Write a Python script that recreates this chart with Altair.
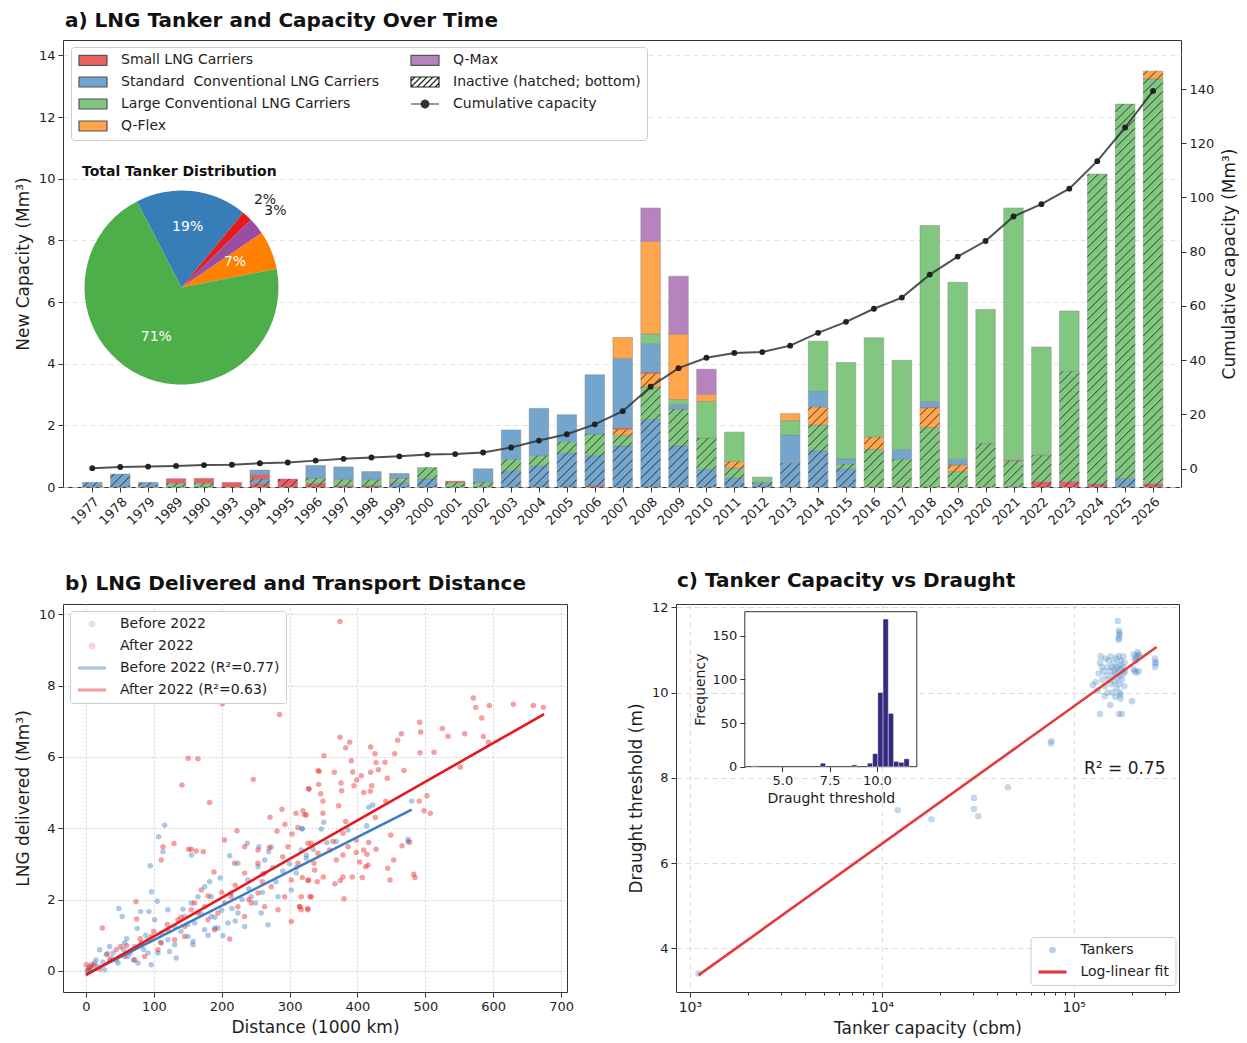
import math
import altair as alt
import pandas as pd

FONT = "DejaVu Sans"
TXT = "#1e1e1e"

# ------------------------------------------------------------------ panel a data
years = [1977, 1978, 1979, 1989, 1990, 1993] + list(range(1994, 2027))

cat_keys = ["small", "standard", "large", "qflex", "qmax"]
cat_labels = ["Small LNG Carriers", "Standard\u00a0 Conventional LNG Carriers",
              "Large Conventional LNG Carriers", "Q-Flex", "Q-Max"]

# inactive (hatched, bottom of each bar), Mm3 per year
small_inactive = {1994: 0.12, 1995: 0.26, 1996: 0.12, 1997: 0.05, 1998: 0.05, 2006: 0.05,
                  2022: 0.17, 2023: 0.17, 2024: 0.10, 2026: 0.10}
standard_inactive = {1977: 0.15, 1978: 0.42, 1979: 0.15, 1994: 0.14, 1999: 0.15, 2000: 0.26,
                     2003: 0.53, 2004: 0.69, 2005: 1.11, 2006: 0.98, 2007: 1.33, 2008: 2.19,
                     2009: 1.33, 2010: 0.57, 2011: 0.29, 2012: 0.15, 2013: 0.77, 2014: 1.18,
                     2015: 0.60, 2025: 0.28}
large_inactive = {1989: 0.13, 1990: 0.13, 1996: 0.17, 1997: 0.19, 1998: 0.19, 1999: 0.14,
                  2000: 0.37, 2001: 0.15, 2002: 0.15, 2003: 0.37, 2004: 0.33, 2005: 0.36,
                  2006: 0.69, 2007: 0.35, 2008: 1.06, 2009: 1.20, 2010: 1.02, 2011: 0.32,
                  2014: 0.83, 2015: 0.15, 2016: 1.22, 2017: 0.90, 2018: 1.93, 2019: 0.50,
                  2020: 1.41, 2021: 0.85, 2022: 0.86, 2023: 3.58, 2024: 10.05, 2025: 12.14,
                  2026: 13.14}
qflex_inactive = {2007: 0.19, 2008: 0.43, 2011: 0.22, 2014: 0.59, 2016: 0.40, 2018: 0.64,
                  2019: 0.21, 2026: 0.25}
qmax_inactive = {}

# active (solid)
small_active = {1989: 0.14, 1990: 0.15, 1993: 0.15, 1994: 0.15, 2001: 0.04, 2007: 0.06,
                2008: 0.05, 2018: 0.03, 2019: 0.02, 2021: 0.03}
standard_active = {1994: 0.14, 1996: 0.41, 1997: 0.41, 1998: 0.26, 1999: 0.15, 2002: 0.44,
                   2003: 0.95, 2004: 1.53, 2005: 0.87, 2006: 1.92, 2007: 2.24, 2008: 0.92,
                   2009: 0.15, 2013: 0.92, 2014: 0.51, 2015: 0.16, 2017: 0.32, 2018: 0.18,
                   2019: 0.17}
large_active = {2008: 0.32, 2009: 0.16, 2010: 1.19, 2011: 0.95, 2012: 0.17, 2013: 0.46,
                2014: 1.62, 2015: 3.13, 2016: 3.22, 2017: 2.89, 2018: 5.70, 2019: 5.74,
                2020: 4.35, 2021: 8.17, 2022: 3.51, 2023: 1.96}
qflex_active = {2007: 0.68, 2008: 3.00, 2009: 2.12, 2010: 0.23, 2013: 0.23}
qmax_active = {2008: 1.08, 2009: 1.88, 2010: 0.81}

inactive = dict(small=small_inactive, standard=standard_inactive, large=large_inactive,
                qflex=qflex_inactive, qmax=qmax_inactive)
active = dict(small=small_active, standard=standard_active, large=large_active,
              qflex=qflex_active, qmax=qmax_active)

# pie: total tanker distribution (share, %)
pie_keys = ["standard", "small", "qmax", "qflex", "large"]
pie_share = [18.6, 1.7, 2.8, 6.4, 70.5]
pie_in_labels = ["19%", "", "", "7%", "71%"]
pie_out_labels = ["", "2%", "3%", "", ""]

# ------------------------------------------------------------------ panel b data
before_pts = [
    (115.9, 4.08), (107.1, 3.76), (318.8, 3.99), (479.9, 4.76), (422.5, 4.65), (416.6, 4.59),
    (413.6, 4.07), (350.3, 4.17), (346.8, 3.98), (318.3, 3.98), (474.5, 3.69), (386, 3.95),
    (113.5, 3.34), (94.8, 2.95), (96.8, 2.22), (105.1, 1.95), (48.6, 1.75), (53.5, 1.52),
    (80.5, 1.66), (92.8, 1.66), (101.2, 1.43), (75.6, 1.19), (20.2, 0.59), (34.9, 0.68),
    (17.7, 0.12), (27.6, 0.03), (5.4, 0.03), (12.8, 0.22), (47.2, 0.22), (61.9, 0.40),
    (76.6, 0.22), (96.2, 0.17), (91.4, 0.50), (106.1, 0.50), (123.3, 0.54), (133.1, 0.36),
    (130.7, 0.73), (150.3, 0.96), (157.7, 0.73), (120.8, 1.71), (142.9, 1.73), (160.2, 1.34),
    (174.9, 1.15), (184.6, 1.52), (201.9, 0.98), (182.3, 2.50), (197.9, 2.60), (211.8, 3.23),
    (224, 3.02), (237.7, 3.58), (254.9, 3.48), (269.2, 3.34), (273.1, 3.47), (253.5, 2.92),
    (263.3, 3.11), (238.7, 2.55), (243.6, 2.08), (214.1, 2.18), (224, 1.62), (209.3, 1.34),
    (233.8, 1.24), (258.4, 1.62), (268.2, 1.29), (283, 2.08), (302.6, 2.27), (309.9, 2.74),
    (324.7, 3.16), (317.3, 3.39), (155.2, 1.90), (165, 2.08), (184.6, 2.08), (174.9, 2.36),
    (145.4, 1.52), (130.7, 1.24), (111, 1.06), (91.4, 0.87), (71.8, 0.68), (57, 0.78),
    (37.3, 0.36), (120.8, 0.87), (194.5, 1.20), (157.7, 0.82), (474.5, 3.61), (368.9, 3.63),
    (324.7, 3.25), (155.5, 3.25), (2, 0.0), (8, 0.1), (15, 0.3), (25, 0.25), (30, 0.45),
    (40, 0.5), (45, 0.3), (55, 0.6), (60, 0.9), (65, 0.5), (70, 0.3), (85, 0.6), (88, 1.0),
    (110, 0.8), (140, 1.1), (150, 1.3), (170, 1.6), (190, 1.5), (200, 1.7), (220, 1.4),
    (230, 2.0), (250, 1.9), (260, 2.2), (280, 2.5), (290, 2.8), (300, 3.0), (310, 2.9),
    (335, 3.4), (355, 3.6), (260, 2.7), (275, 2.9), (190, 1.2), (180, 1.0), (215, 1.75),
    (240, 2.3),
]
after_pts = [
    (200.9, 7.49), (285.4, 7.19), (150.8, 5.96), (165, 5.95), (246.6, 5.37), (141.5, 5.21),
    (182.2, 4.72), (288.8, 4.53), (271.1, 4.31), (309.5, 4.42), (319.8, 4.49), (324.7, 4.37),
    (328.1, 5.11), (293.2, 4.11), (222.5, 3.93), (281.5, 3.92), (303.6, 3.84), (312.4, 4.02),
    (204.3, 3.67), (341.9, 5.61), (374.3, 9.80), (570.8, 7.65), (574.2, 7.39), (594.4, 7.44),
    (629.7, 7.48), (659.2, 7.44), (673.9, 7.39), (583.1, 7.09), (585.5, 6.57), (592.9, 6.41),
    (558, 6.65), (533.5, 6.58), (525.1, 6.80), (551.6, 5.72), (491.7, 6.97), (493.2, 6.70),
    (492.2, 6.12), (512.8, 6.13), (464.7, 6.65), (459.3, 6.47), (454.9, 6.09), (440.6, 5.85),
    (419.5, 6.28), (425.9, 6.09), (427.4, 5.84), (430.8, 5.64), (419.5, 5.57), (444, 5.40),
    (468.6, 5.62), (421, 5.19), (419, 5.04), (409.2, 5.00), (405.7, 5.47), (398.9, 5.35),
    (394.9, 5.19), (374.3, 6.55), (388.6, 6.41), (382.7, 6.26), (391, 5.89), (393, 5.58),
    (375.8, 5.27), (376.8, 5.05), (365.9, 5.57), (350.7, 6.03), (343.8, 5.60), (342.9, 5.23),
    (345.9, 4.97), (349.2, 4.76), (328.6, 5.10), (372.4, 4.63), (349.2, 4.42), (382.7, 4.19),
    (426.3, 4.30), (441.6, 4.76), (491.2, 4.76), (502.5, 4.91), (498.1, 4.49), (507.4, 4.42),
    (449, 3.81), (322.2, 4.38), (113.5, 3.48), (129.7, 3.57), (151.3, 3.41), (155.2, 3.41),
    (162.5, 3.36), (172.9, 3.34), (111, 3.11), (188.6, 2.77), (73.7, 1.94), (74.7, 1.45),
    (24.1, 1.20), (51.1, 0.68), (31.4, 0.48), (0.5, 0.17), (7.9, 0.17), (3, 0.03), (57, 0.40),
    (81.5, 0.78), (96.2, 0.96), (111, 0.78), (120.8, 1.15), (135.6, 1.43), (145.4, 1.24),
    (165, 1.62), (174.9, 1.80), (179.8, 1.43), (189.6, 1.15), (211.8, 0.89), (194.5, 1.62),
    (204.4, 1.90), (214.1, 2.08), (224, 1.80), (233.8, 1.52), (243.6, 1.90), (253.5, 2.18),
    (263.3, 1.80), (273.1, 2.36), (283, 1.71), (292.8, 2.08), (302.6, 2.55), (315, 1.80),
    (327.1, 1.71), (332, 2.08), (302.6, 1.38), (297.7, 3.48), (312.4, 3.02), (327.1, 2.55),
    (337, 2.83), (253.5, 3.02), (233.8, 2.74), (219.1, 3.02), (263.3, 2.74), (169.9, 2.27),
    (155.2, 1.71), (145.4, 0.96), (130.7, 0.87), (106.1, 0.59), (86.5, 0.40), (71.8, 0.31),
    (233.8, 3.48), (253.5, 3.39), (327.1, 3.58), (465.7, 3.51), (477, 3.61), (453.4, 3.11),
    (444.6, 2.88), (448, 2.55), (482.9, 2.71), (484.8, 2.62), (416.6, 3.60), (427.4, 3.41),
    (414.1, 3.27), (409.2, 3.39), (403.3, 3.05), (415.6, 2.97), (412.2, 2.92), (398.3, 3.32),
    (407.2, 2.62), (392.4, 2.63), (378.7, 3.25), (368.9, 3.11), (378.7, 2.63), (374.8, 2.53),
    (366.9, 2.44), (380.2, 2.02), (349.7, 2.63), (340.8, 2.50), (328.1, 2.53), (318.8, 2.62),
    (330.1, 2.08), (317.3, 2.08), (326.7, 1.75), (317.3, 1.71), (314.9, 1.80), (336, 3.02),
    (359.1, 3.39), (378.7, 3.86), (398.3, 3.67), (341.9, 3.30), (332, 3.58), (364, 3.63),
    (386.1, 3.48), (5, 0.1), (12, 0.15), (20, 0.05), (35, 0.3), (45, 0.6), (60, 0.7), (80, 0.9),
    (100, 1.1), (120, 1.3), (140, 1.5), (160, 1.9), (180, 2.1), (200, 2.2), (220, 2.4),
    (240, 2.0), (260, 2.5), (270, 3.45), (290, 3.2),
]
before_fit_x = [0, 480]
before_fit_y = [-0.10, 4.52]
after_fit_x = [0, 675]
after_fit_y = [-0.12, 7.20]
b_legend_labels = ["Before 2022", "After 2022", "Before 2022 (R\u00b2=0.77)", "After 2022 (R\u00b2=0.63)"]

# ------------------------------------------------------------------ panel c data
tanker_pts = [
    (1110, 3.41), (12100, 7.24), (18150, 7.03), (30200, 7.53), (30200, 7.27), (31800, 7.10),
    (45400, 7.78), (76000, 8.81), (76500, 8.86),
    (169500, 11.68), (172000, 11.45), (172500, 11.40), (173000, 11.35), (172000, 11.28),
    (171000, 11.24),
    (125500, 10.18), (130000, 10.25), (133000, 10.05), (135000, 10.45), (137000, 10.70),
    (138000, 10.85), (140000, 10.60), (141000, 10.30), (143000, 10.50), (145000, 10.15),
    (146000, 10.80), (148000, 10.40), (150000, 10.60), (150000, 10.00), (152000, 10.75),
    (153000, 10.30), (155000, 10.50), (156000, 10.85), (157000, 10.20), (158000, 10.60),
    (160000, 10.40), (160000, 10.00), (162000, 10.70), (163000, 10.55), (164000, 10.25),
    (165000, 10.45), (166000, 10.80), (167000, 10.10), (168000, 10.60), (169000, 10.35),
    (170000, 10.50), (171000, 10.85), (172000, 10.20), (173000, 10.65), (174000, 10.00),
    (175000, 10.40), (176000, 10.75), (177000, 10.55), (178000, 10.30), (180000, 10.60),
    (181000, 10.85), (182000, 10.45), (183000, 10.15), (184000, 10.70), (185000, 10.50),
    (175000, 9.95), (165000, 9.90), (145000, 9.92),
    (205000, 10.90), (208000, 10.80), (210000, 10.75), (212000, 10.85), (215000, 10.95),
    (218000, 10.90), (220000, 10.85), (205000, 10.55), (208000, 10.50), (212000, 10.47),
    (218000, 10.50),
    (265000, 10.80), (266000, 10.72), (267000, 10.68), (265000, 10.60),
    (155000, 9.71), (201000, 9.80), (137000, 9.50), (172000, 9.50), (178000, 9.50), (175000, 9.86),
]
fit_c_x = [1110, 270000]
fit_c_y = [3.37, 11.07]
hist_lo = [3.400, 7.001, 8.663, 9.494, 9.771, 10.048, 10.325, 10.602, 10.879, 11.156, 11.433]
hist_n = [1, 4, 2, 4, 15, 85, 169, 61, 6, 5, 9]
HIST_W = 0.277
c_legend_labels = ["Tankers", "Log-linear fit"]

# ------------------------------------------------------------------ styles
SET1 = dict(small="#e41a1c", standard="#377eb8", large="#4daf4a", qflex="#ff7f00", qmax="#984ea3")
BAR = dict(small="#ec5f60", standard="#73a5cd", large="#82c780", qflex="#ffa54c", qmax="#b783bf")

A_W, A_H = 1118, 447
A_XDOM = [-1.05, 39.0]
A_YDOM = [0, 14.5]
A_Y2DOM = [-6.8, 158.1]
BW = 0.7
SX = A_W / (A_XDOM[1] - A_XDOM[0])
SY = A_H / (A_YDOM[1] - A_YDOM[0])
HS = 9.0  # hatch spacing in px


def hatch_lines(x0, x1, y0, y1):
    X0, X1, Y0, Y1 = x0 * SX, x1 * SX, y0 * SY, y1 * SY
    out = []
    kmin = math.floor((Y0 - X1) / HS)
    kmax = math.ceil((Y1 - X0) / HS)
    for k in range(kmin, kmax + 1):
        c = k * HS
        lo = max(X0, Y0 - c)
        hi = min(X1, Y1 - c)
        if hi - lo > 0.6:
            out.append(dict(hx=lo / SX, hy=(lo + c) / SY, hx2=hi / SX, hy2=(hi + c) / SY))
    return out


seg_rows, hatch_rows, tot_rows = [], [], []
for i, yr in enumerate(years):
    base = 0.0
    for status, dd in (("inactive", inactive), ("active", active)):
        for k in cat_keys:
            v = dd[k].get(yr, 0.0)
            if v > 0:
                seg_rows.append(dict(x0=i - BW / 2, x1=i + BW / 2, y0=base, y1=base + v,
                                     fill=BAR[k]))
                if status == "inactive":
                    hatch_rows.extend(hatch_lines(i - BW / 2, i + BW / 2, base, base + v))
                base += v
    tot_rows.append(dict(idx=i, total=base))

df_seg = pd.DataFrame(seg_rows)
df_hatch = pd.DataFrame(hatch_rows)
df_tot = pd.DataFrame(tot_rows)

year_expr = "[" + ",".join("'%d'" % y for y in years) + "][datum.value]"
XSCALE_A = alt.Scale(domain=A_XDOM, nice=False, zero=False)
XAXIS_A = alt.Axis(values=list(range(len(years))), labelExpr=year_expr, labelAngle=-45,
                   title=None, grid=False, labelOverlap=False, labelFontSize=13)
YSCALE_A = alt.Scale(domain=A_YDOM, nice=False, zero=False)
YAXIS_A = alt.Axis(values=list(range(0, 15, 2)), title="New Capacity (Mm\u00b3)", grid=True,
                   gridDash=[5, 4], gridColor="#dcdcdc", gridWidth=0.8)

bars = alt.Chart(df_seg).mark_rect(stroke="#8a8a8a", strokeWidth=0.5).encode(
    x=alt.X("x0:Q", scale=XSCALE_A, axis=XAXIS_A), x2="x1:Q",
    y=alt.Y("y0:Q", scale=YSCALE_A, axis=YAXIS_A), y2="y1:Q",
    fill=alt.Fill("fill:N", scale=None))
hatch = alt.Chart(df_hatch).mark_rule(color="#1a1a1a", strokeWidth=0.9, opacity=0.9).encode(
    x=alt.X("hx:Q", scale=XSCALE_A, axis=XAXIS_A), x2="hx2:Q",
    y=alt.Y("hy:Q", scale=YSCALE_A, axis=YAXIS_A), y2="hy2:Q")
bars_layer = alt.layer(bars, hatch)

cum_base = alt.Chart(df_tot).transform_window(
    cum="sum(total)", sort=[alt.SortField("idx")], frame=[None, 0]).encode(
    x=alt.X("idx:Q", scale=XSCALE_A, axis=XAXIS_A),
    y=alt.Y("cum:Q", scale=alt.Scale(domain=A_Y2DOM, nice=False, zero=False),
            axis=alt.Axis(orient="right", values=list(range(0, 141, 20)), grid=False,
                          title="Cumulative capacity (Mm\u00b3)", titleAngle=270,
                          titleBaseline="top", titlePadding=8)))
cum_line = cum_base.mark_line(color="#333333", strokeWidth=2, opacity=0.85)
cum_pts = cum_base.mark_circle(color="#222222", size=34, opacity=1)
line_layer = alt.layer(cum_line, cum_pts)

df_pie = pd.DataFrame(dict(key=pie_keys, share=pie_share, ord=list(range(5)),
                           col=[SET1[k] for k in pie_keys], lin=pie_in_labels,
                           lout=pie_out_labels))
PIE_X, PIE_Y, PIE_R = 118.5, 247.5, 97
START = math.radians(-27.4)
theta = alt.Theta("share:Q", stack=True,
                  scale=alt.Scale(range=[START, START + 2 * math.pi]))
pie = alt.Chart(df_pie).mark_arc(outerRadius=PIE_R).encode(
    theta=theta, order=alt.Order("ord:Q"), fill=alt.Fill("col:N", scale=None),
    x=alt.value(PIE_X), y=alt.value(PIE_Y))
pie_in = alt.Chart(df_pie).mark_text(radius=58, fontSize=14, color="white", dy=-3).encode(
    theta=theta, order=alt.Order("ord:Q"), text="lin:N", x=alt.value(PIE_X), y=alt.value(PIE_Y))
pie_out = alt.Chart(df_pie).mark_text(radius=107, fontSize=14, color=TXT, align="left",
                                      dy=-9).encode(
    theta=theta, order=alt.Order("ord:Q"), text="lout:N", x=alt.value(PIE_X), y=alt.value(PIE_Y))
pie_title = alt.Chart(pd.DataFrame(dict(t=["Total Tanker Distribution"]))).mark_text(
    fontSize=14, fontWeight="bold", align="left", baseline="middle", color="#111").encode(
    text="t:N", x=alt.value(19), y=alt.value(132))

RECT = "M-1,-1H4.6V1H-1Z"
HATCH = ("M-1,-1H4.6V1H-1Z M-1,1L1,-1 M0.2,1L2.2,-1 M1.4,1L3.4,-1 M2.6,1L4.6,-1 "
         "M3.8,1L4.6,0.2 M-1,-0.2L-0.2,-1")
LINEDOT = ("M-1,0H4.6 M1.8,-0.8L2.37,-0.57L2.6,0L2.37,0.57L1.8,0.8L1.23,0.57L1,0L1.23,-0.57Z")
a_leg_domain = [cat_labels[0], cat_labels[1], cat_labels[2], cat_labels[3], cat_labels[4],
                "Inactive (hatched; bottom)", "Cumulative capacity"]
a_leg_colors = [BAR["small"], BAR["standard"], BAR["large"], BAR["qflex"], BAR["qmax"], "white",
                "#333333"]
a_leg_strokes = ["#555555", "#555555", "#555555", "#555555", "#555555", "#222222", "#333333"]
a_leg_shapes = [RECT, RECT, RECT, RECT, RECT, HATCH, LINEDOT]
LEG_A = alt.Legend(title=None, orient="none", legendX=8, legendY=7, columns=2, columnPadding=28,
                   rowPadding=6, symbolSize=100, symbolStrokeWidth=1.2, symbolOpacity=1,
                   labelOffset=30, labelFontSize=14, labelColor=TXT, labelLimit=500, padding=6,
                   strokeColor="#cccccc", fillColor="white", cornerRadius=3)
leg_a = alt.Chart(pd.DataFrame(dict(lg=a_leg_domain))).transform_filter("false").mark_point(
    filled=True, opacity=1).encode(
    x=alt.value(0), y=alt.value(0),
    color=alt.Color("lg:N", scale=alt.Scale(domain=a_leg_domain, range=a_leg_colors), legend=LEG_A),
    stroke=alt.Stroke("lg:N", scale=alt.Scale(domain=a_leg_domain, range=a_leg_strokes),
                      legend=LEG_A),
    shape=alt.Shape("lg:N", scale=alt.Scale(domain=a_leg_domain, range=a_leg_shapes), legend=LEG_A))

panel_a = alt.layer(bars_layer, line_layer, pie, pie_in, pie_out, pie_title, leg_a).resolve_scale(
    y="independent").properties(
    width=A_W, height=A_H,
    title=alt.TitleParams("a) LNG Tanker and Capacity Over Time", anchor="start", frame="group",
                          fontSize=20, fontWeight="bold", offset=9, dx=2, color="#111"))

# ------------------------------------------------------------------ panel b
B_W, B_H = 504, 388
df_b = pd.DataFrame(
    [dict(d=x, v=y, c="#3a7dc0") for x, y in before_pts] +
    [dict(d=x, v=y, c="#e41a1c") for x, y in after_pts])
XSCALE_B = alt.Scale(domain=[-33.75, 708.75], nice=False, zero=False)
YSCALE_B = alt.Scale(domain=[-0.595, 10.29], nice=False, zero=False)
XAXIS_B = alt.Axis(values=list(range(0, 701, 100)), title="Distance (1000 km)", grid=True,
                   gridDash=[2, 2], gridColor="#c9c9c9", gridWidth=0.8)
YAXIS_B = alt.Axis(values=list(range(0, 11, 2)), title="LNG delivered (Mm\u00b3)", grid=True,
                   gridDash=[2, 2], gridColor="#c9c9c9", gridWidth=0.8)
scat_b = alt.Chart(df_b).mark_circle(size=30, opacity=0.42).encode(
    x=alt.X("d:Q", scale=XSCALE_B, axis=XAXIS_B), y=alt.Y("v:Q", scale=YSCALE_B, axis=YAXIS_B),
    color=alt.Color("c:N", scale=None))
df_fit_b = pd.DataFrame(
    [dict(d=x, v=y, g="b", c="#3a7dc0") for x, y in zip(before_fit_x, before_fit_y)] +
    [dict(d=x, v=y, g="a", c="#e41a1c") for x, y in zip(after_fit_x, after_fit_y)])
fit_b = alt.Chart(df_fit_b).mark_line(strokeWidth=2.6).encode(
    x=alt.X("d:Q", scale=XSCALE_B, axis=XAXIS_B), y=alt.Y("v:Q", scale=YSCALE_B, axis=YAXIS_B),
    detail="g:N", color=alt.Color("c:N", scale=None))
BIGDOT = "M1.8,-0.72L2.31,-0.51L2.52,0L2.31,0.51L1.8,0.72L1.29,0.51L1.08,0L1.29,-0.51Z"
THIN = "M-1,-0.32H4.6V0.32H-1Z"
LEG_B = alt.Legend(title=None, orient="none", legendX=7, legendY=7, rowPadding=8, symbolSize=100,
                   symbolOpacity=1, labelOffset=30, labelFontSize=14,
                   labelColor=TXT, labelLimit=400, padding=6, strokeColor="#cccccc",
                   fillColor="white", cornerRadius=3)
leg_b = alt.Chart(pd.DataFrame(dict(lg=b_legend_labels))).transform_filter("false").mark_point(
    filled=True, opacity=1).encode(
    x=alt.value(0), y=alt.value(0),
    color=alt.Color("lg:N", scale=alt.Scale(domain=b_legend_labels,
                                            range=["#a3c3e2", "#f29394", "#2f74b8", "#e41a1c"]),
                    legend=LEG_B),
    shape=alt.Shape("lg:N", scale=alt.Scale(domain=b_legend_labels,
                                            range=[BIGDOT, BIGDOT, THIN, THIN]),
                    legend=LEG_B))
panel_b = alt.layer(scat_b, fit_b, leg_b).properties(
    width=B_W, height=B_H,
    title=alt.TitleParams("b) LNG Delivered and Transport Distance", anchor="start", frame="group",
                          fontSize=20, fontWeight="bold", offset=10, dx=2, color="#111"))

# ------------------------------------------------------------------ panel c
C_W, C_H = 503, 388
majors = "indexof([1000,10000,100000], datum.value) >= 0"
tick_vals = [m * 10 ** e for e in (3, 4, 5) for m in range(1, 10) if m * 10 ** e <= 350000]
XSCALE_C = alt.Scale(type="log", domain=[847, 353300], nice=False)
YSCALE_C = alt.Scale(domain=[2.975, 12.08], nice=False, zero=False)
XAXIS_C = alt.Axis(values=tick_vals, title="Tanker capacity (cbm)", grid=True,
                   labelExpr="datum.value == 1000 ? '10\u00b3' : datum.value == 10000 ? '10\u2074' : datum.value == 100000 ? '10\u2075' : ''",
                   labelOverlap=False, labelFontSize=14,
                   tickSize={"condition": {"test": majors, "value": 5}, "value": 3},
                   gridOpacity={"condition": {"test": majors, "value": 1}, "value": 0},
                   gridDash=[5, 4], gridColor="#d2d2d2", gridWidth=0.8)
YAXIS_C = alt.Axis(values=[4, 6, 8, 10, 12], title="Draught threshold (m)", grid=True,
                   gridDash=[5, 4], gridColor="#d2d2d2", gridWidth=0.8)
df_c = pd.DataFrame(dict(cap=[p[0] for p in tanker_pts], dr=[p[1] for p in tanker_pts]))
scat_c = alt.Chart(df_c).mark_circle(size=44, opacity=0.3, color="#3a7dc0").encode(
    x=alt.X("cap:Q", scale=XSCALE_C, axis=XAXIS_C), y=alt.Y("dr:Q", scale=YSCALE_C, axis=YAXIS_C))
fit_c = alt.Chart(pd.DataFrame(dict(cap=fit_c_x, dr=fit_c_y))).mark_line(
    color="#e23b3b", strokeWidth=2.6).encode(
    x=alt.X("cap:Q", scale=XSCALE_C, axis=XAXIS_C), y=alt.Y("dr:Q", scale=YSCALE_C, axis=YAXIS_C))
main_c = alt.layer(scat_c, fit_c)

IN_X0, IN_X1, IN_Y0, IN_Y1 = 68.8, 240.8, 7.7, 162.7
inset_box = alt.Chart(pd.DataFrame(dict(a=[0]))).mark_rect(
    fill="white", stroke="#333333", strokeWidth=1).encode(
    x=alt.value(IN_X0), x2=alt.value(IN_X1), y=alt.value(IN_Y0), y2=alt.value(IN_Y1))
df_h = pd.DataFrame(dict(lo=hist_lo, hi=[v + HIST_W for v in hist_lo], n=hist_n, z=[0] * len(hist_lo)))
hist = alt.Chart(df_h).mark_rect(color="#312c7d", stroke="white", strokeWidth=0.4).encode(
    x=alt.X("lo:Q", scale=alt.Scale(domain=[3.01, 12.11], range=[IN_X0, IN_X1], nice=False,
                                    zero=False),
            axis=alt.Axis(orient="bottom", offset=-(C_H - IN_Y1), values=[5.0, 7.5, 10.0],
                          format=".1f", title="Draught threshold", titleFontSize=14,
                          labelFontSize=13, grid=False, zindex=1, titlePadding=4)),
    x2="hi:Q",
    y=alt.Y("n:Q", scale=alt.Scale(domain=[0, 177.5], range=[IN_Y1, IN_Y0], nice=False),
            axis=alt.Axis(orient="left", offset=-IN_X0, values=[0, 50, 100, 150],
                          title="Frequency", titleFontSize=14, labelFontSize=13, grid=False,
                          zindex=1, titlePadding=4)),
    y2="z:Q")
r2_text = alt.Chart(pd.DataFrame(dict(t=["R\u00b2 = 0.75"]))).mark_text(
    fontSize=17, align="right", baseline="middle", color=TXT).encode(
    text="t:N", x=alt.value(489.5), y=alt.value(165))
LEG_C = alt.Legend(title=None, orient="none", legendX=354.5, legendY=333, rowPadding=8,
                   symbolSize=100, symbolOpacity=1, labelOffset=30,
                   labelFontSize=14, labelColor=TXT, labelLimit=400, padding=6,
                   strokeColor="#cccccc", fillColor="white", cornerRadius=3)
leg_c = alt.Chart(pd.DataFrame(dict(lg=c_legend_labels))).transform_filter("false").mark_point(
    filled=True, opacity=1).encode(
    x=alt.value(0), y=alt.value(0),
    color=alt.Color("lg:N", scale=alt.Scale(domain=c_legend_labels, range=["#b6d0e9", "#e23b3b"]),
                    legend=LEG_C),
    shape=alt.Shape("lg:N", scale=alt.Scale(domain=c_legend_labels, range=[BIGDOT, THIN]),
                    legend=LEG_C))
panel_c = alt.layer(main_c, inset_box, hist, r2_text, leg_c).resolve_scale(
    x="independent", y="independent").properties(
    width=C_W, height=C_H,
    title=alt.TitleParams("c) Tanker Capacity vs Draught", anchor="start", frame="group",
                          fontSize=20, fontWeight="bold", offset=10, dx=1, color="#111"))

bottom = alt.hconcat(panel_b, panel_c, spacing=52).resolve_scale(
    color="independent", shape="independent", stroke="independent")
chart = alt.vconcat(panel_a, bottom, spacing=41).resolve_scale(
    color="independent", shape="independent", stroke="independent"
).properties(padding={"left": 5, "right": 0, "top": 2, "bottom": 5}).configure(
    font=FONT
).configure_view(stroke="#333333", strokeWidth=1).configure_axis(
    labelFont=FONT, titleFont=FONT, labelFontSize=13, titleFontSize=17, titleFontWeight="normal",
    labelColor=TXT, titleColor=TXT, tickColor="#333333", tickSize=5, domain=False,
    labelPadding=3, titlePadding=6
).configure_legend(labelFont=FONT).configure_title(font=FONT)

chart.save("out.html", embed_options={"renderer": "svg", "actions": False})
